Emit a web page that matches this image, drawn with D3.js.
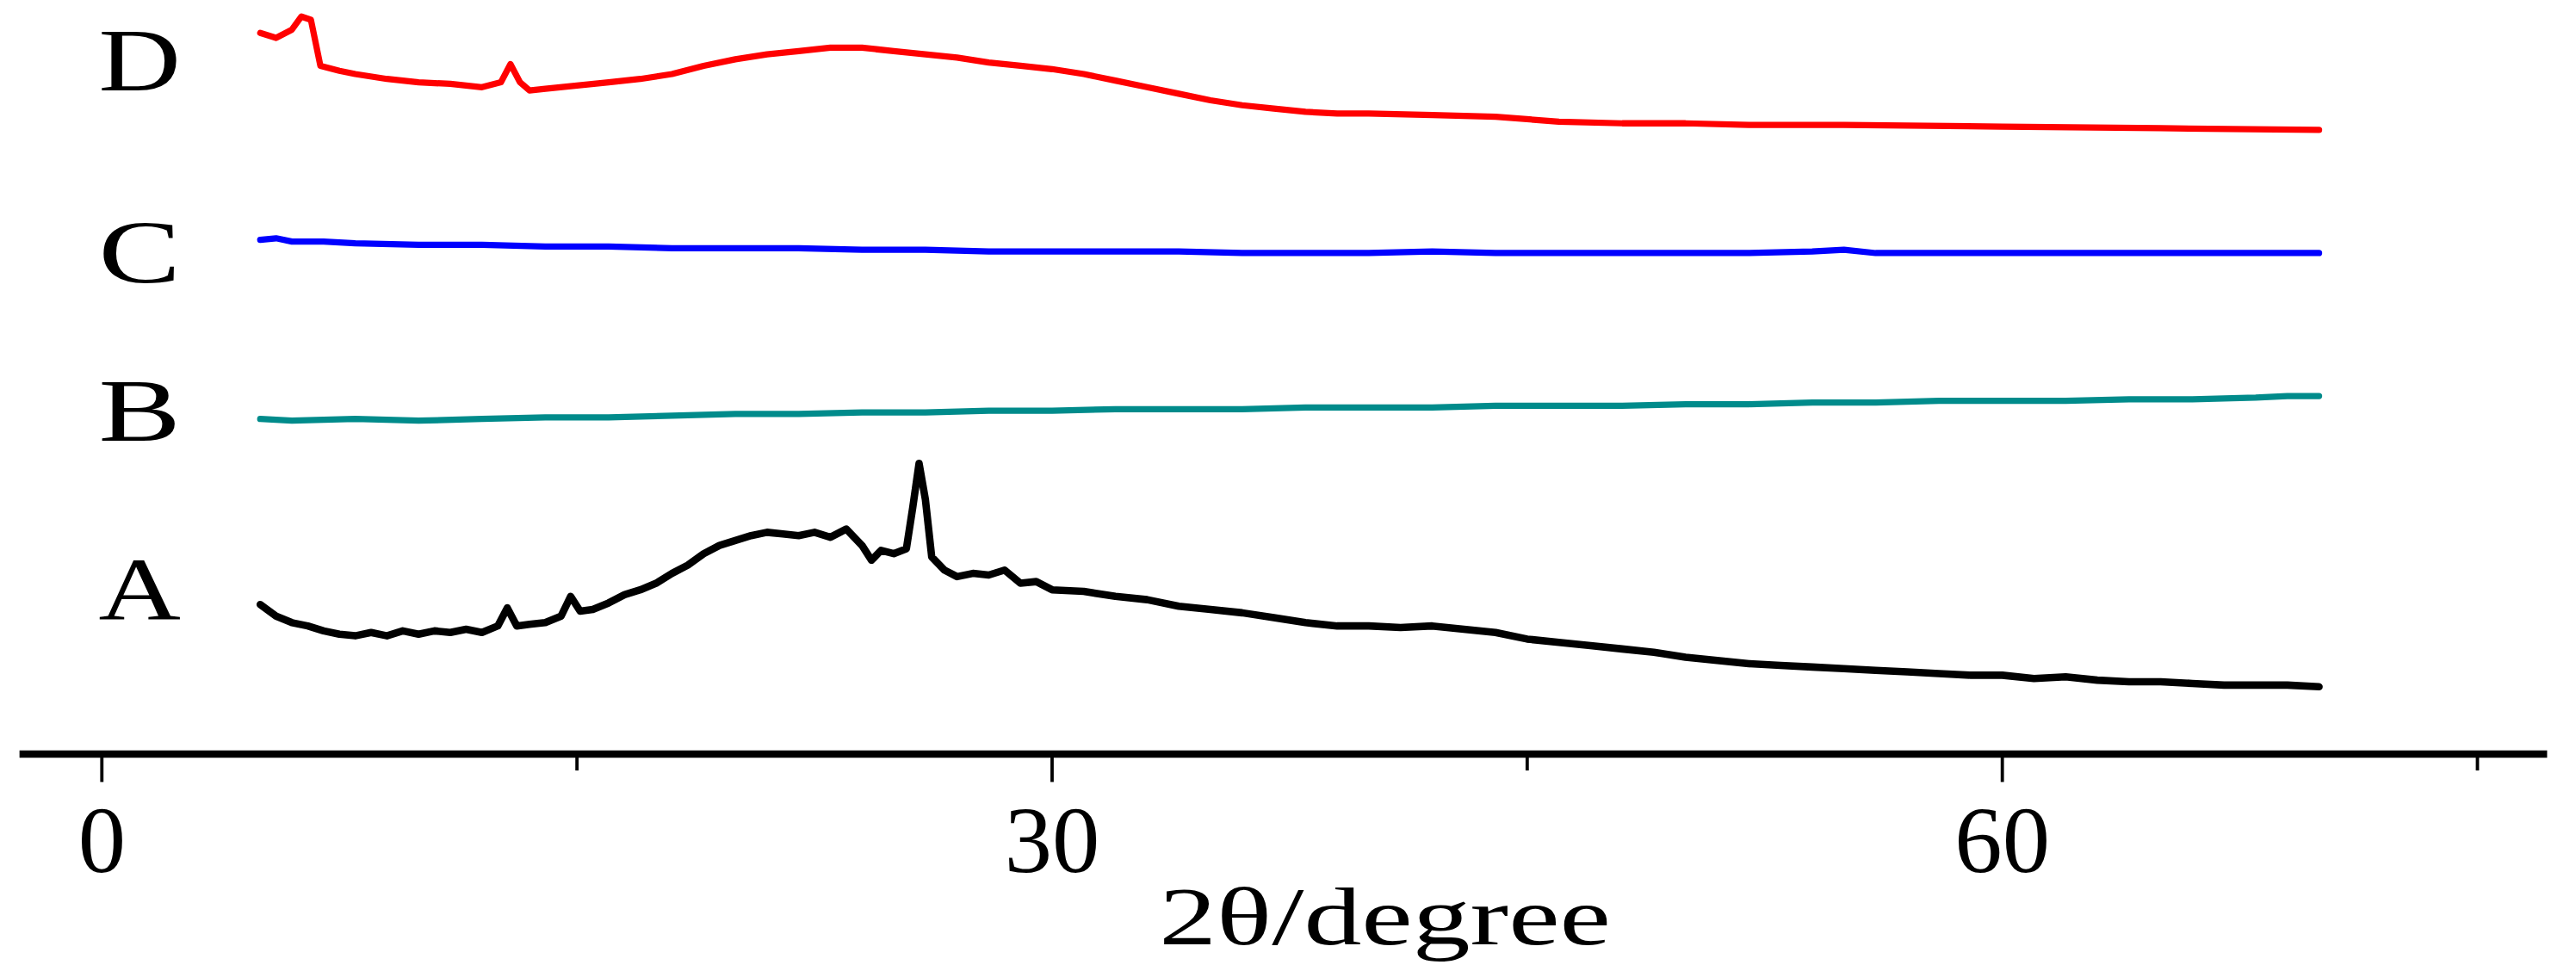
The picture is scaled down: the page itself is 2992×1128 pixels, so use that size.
<!DOCTYPE html>
<html><head><meta charset="utf-8">
<script src="https://cdn.jsdelivr.net/npm/d3@7"></script>
<style>html,body{margin:0;padding:0;background:#fff;}</style>
</head><body>
<svg id="c" width="2992" height="1128" viewBox="0 0 1568 591"></svg>
<script>
const seriesNames = ["A","B","C","D"];
const seriesColors = ["#000000","#008b8b","#0000ff","#ff0000"];
const xTicks = [0,15,30,45,60,75];
const xTickLabels = ["0","","30","","60",""];
const xTitle = "2θ/degree";

const A_x = [5,5.5,6,6.5,7,7.5,8,8.5,9,9.5,10,10.5,11,11.5,12,12.5,12.8,13.1,13.5,14,14.5,14.8,15.1,15.5,16,16.5,17,17.5,18,18.5,19,19.5,20,20.5,21,21.5,22,22.5,23,23.5,24,24.3,24.6,25,25.4,25.6,25.8,26,26.2,26.6,27,27.5,28,28.5,29,29.5,30,31,32,33,34,35,36,37,38,39,40,41,42,43,44,45,46,47,48,49,50,51,52,53,54,55,56,57,58,59,60,61,62,63,64,65,66,67,68,69,70];
const A_y = [91,84,80,78,75,73,72,74,72,75,73,75,74,76,74,78,89,78,79,80,84,96,87,88,92,97,100,104,110,115,122,127,130,133,135,134,133,135,132,137,127,118,124,122,125,150,177,155,120,112,108,110,109,112,104,105,100,99,96,94,90,88,86,83,80,78,78,77,78,76,74,70,68,66,64,62,59,57,55,54,53,52,51,50,49,48,48,46,47,45,44,44,43,42,42,42,41];
const B_x = [5,6,8,10,12,14,16,18,20,22,24,26,28,30,32,34,36,38,40,42,44,46,48,50,52,54,56,58,60,62,64,66,68,69,70];
const B_y = [204,203,204,203,204,205,205,206,207,207,208,208,209,209,210,210,210,211,211,211,212,212,212,213,213,214,214,215,215,215,216,216,217,218,218];
const C_x = [5,5.5,6,7,8,10,12,14,16,18,20,22,24,26,28,30,32,34,36,38,40,42,44,46,48,50,52,54,55,56,58,60,62,64,66,68,70];
const C_y = [313,314,312,312,311,310,310,309,309,308,308,308,307,307,306,306,306,306,305,305,305,306,305,305,305,305,305,306,307,305,305,305,305,305,305,305,305];
const D_x = [5,5.5,6,6.3,6.6,6.9,7.5,8,9,10,11,12,12.6,12.9,13.2,13.5,14,15,16,17,18,19,20,21,22,23,24,25,26,27,28,29,30,31,32,33,34,35,36,37,38,39,40,42,44,46,48,50,52,55,60,65,70];
const D_y = [439,436,441,449,447,419,416,414,411,409,408,406,409,420,409,404,405,407,409,411,414,419,423,426,428,430,430,428,426,424,421,419,417,414,410,406,402,398,395,393,391,390,390,389,388,385,384,384,383,383,382,381,380];
const seriesX = [A_x,B_x,C_x,D_x];
const seriesY = [A_y,B_y,C_y,D_y];

const svg = d3.select("#c");
const x = d3.scaleLinear().domain([0,75]).range([62,1508]);
const y = d3.scaleLinear().domain([0,459]).range([459,0]);
const line = d3.line().x(d=>x(d[0])).y(d=>y(d[1]));

seriesNames.forEach((n,i)=>{
  const pts = seriesX[i].map((v,j)=>[v,seriesY[i][j]]);
  svg.append("path").attr("d",line(pts)).attr("fill","none")
    .attr("stroke",seriesColors[i]).attr("stroke-width", i===0?4.5:3.8)
    .attr("stroke-linejoin","round").attr("stroke-linecap","round");
});

const labelBase = {"A":377,"B":268,"C":172,"D":55};
seriesNames.forEach(n=>{
  svg.append("text").attr("x",85).attr("y",labelBase[n]).attr("text-anchor","middle")
    .attr("font-family","Liberation Serif").attr("font-size",54)
    .attr("textLength",50).attr("lengthAdjust","spacingAndGlyphs").text(n);
});

svg.append("line").attr("x1",x(-2.6)).attr("x2",x(77.2)).attr("y1",459).attr("y2",459)
  .attr("stroke","#000").attr("stroke-width",4.5);
xTicks.forEach((t,i)=>{
  const major = xTickLabels[i] !== "";
  svg.append("line").attr("x1",x(t)).attr("x2",x(t)).attr("y1",459).attr("y2",major?476:469)
    .attr("stroke","#000").attr("stroke-width",2);
  if(major){
    svg.append("text").attr("x",x(t)).attr("y",531).attr("text-anchor","middle")
      .attr("font-family","Liberation Serif").attr("font-size",58)
      .text(xTickLabels[i]);
  }
});
svg.append("text").attr("x",843).attr("y",575).attr("text-anchor","middle")
  .attr("font-family","Liberation Serif").attr("font-size",50)
  .attr("textLength",275).attr("lengthAdjust","spacingAndGlyphs").text(xTitle);
</script>
</body></html>
